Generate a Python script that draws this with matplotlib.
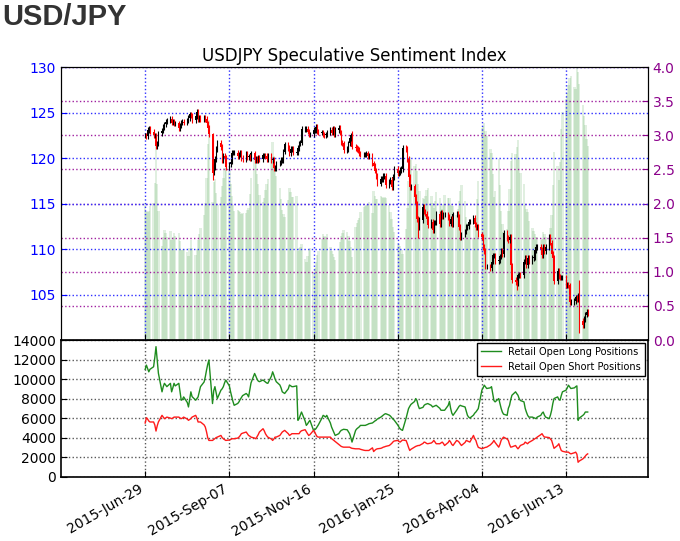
import pandas as pd
import matplotlib
matplotlib.use("Agg")
import matplotlib.pyplot as plt
import matplotlib.dates as mdates

# business days from 2015-06-29 to 2016-07-01 (53 weeks)
dates = pd.bdate_range("2015-06-29", periods=265)

# daily USDJPY closes, one row per week
close = [
    122.5, 122.4, 123.1, 123.2, 122.9,
    122.5, 122.5, 121.3, 121.6, 122.7,
    123.0, 123.4, 123.7, 124.0, 124.1,
    124.3, 123.9, 124.0, 123.8, 123.8,
    123.3, 123.6, 123.9, 124.0, 123.9,
    124.1, 124.4, 124.8, 124.7, 124.2,
    124.6, 125.1, 124.3, 124.4, 124.3,
    124.4, 124.3, 123.8, 123.3, 122.6,
    118.4, 119.0, 119.9, 121.0, 121.7,
    121.2, 119.7, 120.2, 120.0, 119.0,
    119.3, 119.6, 120.6, 120.6, 120.6,
    120.2, 120.4, 120.6, 120.0, 119.9,
    120.5, 120.1, 120.1, 120.0, 120.5,
    119.8, 119.9, 119.8, 120.0, 119.9,
    120.3, 120.3, 120.2, 119.9, 120.2,
    119.8, 119.8, 118.9, 118.9, 119.4,
    119.5, 119.8, 119.8, 120.7, 121.5,
    121.1, 120.5, 121.0, 121.0, 120.6,
    120.6, 121.1, 121.6, 121.7, 123.2,
    123.2, 123.2, 122.9, 122.6, 122.6,
    123.1, 123.1, 123.4, 122.9, 122.8,
    122.8, 122.6, 122.5, 122.6, 122.8,
    123.1, 122.8, 123.2, 122.6, 123.1,
    123.3, 122.8, 121.7, 121.6, 120.9,
    121.0, 121.6, 122.2, 122.5, 121.2,
    121.1, 121.0, 120.9, 120.5, 120.4,
    120.4, 120.4, 120.5, 120.2, 120.2,
    119.4, 119.1, 118.6, 118.0, 117.2,
    117.7, 117.7, 118.0, 118.0, 117.0,
    117.4, 117.6, 116.8, 117.9, 118.8,
    118.3, 118.4, 118.7, 118.8, 121.1,
    121.0, 119.9, 117.9, 116.8, 116.9,
    115.7, 115.0, 113.3, 112.4, 113.2,
    114.6, 114.1, 113.9, 113.3, 112.6,
    113.0, 112.1, 112.9, 112.9, 113.9,
    112.7, 114.0, 113.6, 113.8, 113.8,
    113.5, 112.8, 113.3, 112.7, 113.8,
    113.9, 113.6, 112.4, 111.3, 111.6,
    111.9, 112.4, 112.5, 113.0, 113.0,
    113.4, 112.7, 112.4, 112.5, 111.6,
    111.3, 110.2, 109.8, 108.1, 108.1,
    107.9, 108.6, 109.3, 109.3, 108.7,
    108.8, 109.2, 109.8, 109.4, 111.8,
    111.2, 111.0, 111.3, 108.2, 106.6,
    106.4, 106.2, 107.1, 107.2, 107.1,
    108.6, 109.0, 108.2, 109.0, 108.6,
    109.0, 109.1, 109.9, 110.2, 110.2,
    109.9, 109.3, 110.2, 109.8, 110.2,
    111.3, 110.7, 109.5, 109.0, 106.5,
    107.6, 107.0, 106.9, 106.9, 106.9,
    106.0, 106.1, 106.0, 104.2, 104.2,
    104.3, 104.7, 104.5, 104.9, 102.1,
    101.6, 102.3, 102.8, 103.1, 102.9,
]

# candles with long shadows (high, low)
big_wicks = {
    "2015-08-24": (122.8, 117.6),
    "2015-12-18": (123.0, 121.0),
    "2016-02-11": (113.6, 111.2),
    "2016-05-03": (106.6, 105.5),
    "2016-06-24": (106.6, 100.8),
}

long_pos = [
    10990, 11430, 11100, 10740, 11000,
    11260, 12200, 13320, 11900, 10600,
    8690, 9200, 9560, 9400, 9220,
    9560, 8690, 9100, 9560, 9300,
    9560, 8700, 7830, 7900, 8170,
    7600, 7140, 7900, 8690, 8200,
    7830, 8000, 8170, 8700, 9220,
    9700, 10230, 10900, 11500, 11950,
    7490, 8800, 9220, 8600, 8000,
    8860, 9000, 9220, 9600, 9900,
    9300, 8700, 8200, 7700, 7310,
    7500, 7660, 7900, 8100, 8300,
    8520, 8400, 8170, 8900, 9600,
    10570, 10300, 10000, 9800, 9730,
    9900, 9800, 9700, 9600, 9560,
    10300, 10740, 10400, 10000, 9730,
    9390, 9100, 8690, 8600, 8520,
    9000, 9390, 9300, 9220, 9220,
    9300, 5770, 5940, 6300, 6620,
    5700, 5250, 5400, 5600, 5770,
    4740, 4800, 4910, 5100, 5300,
    6000, 6280, 6200, 6100, 6280,
    5500, 5080, 4800, 4500, 4220,
    4400, 4600, 4740, 4800, 4850,
    4800, 4600, 4400, 4000, 3540,
    4740, 4900, 5000, 5100, 5250,
    5250, 5250, 5300, 5350, 5420,
    5500, 5600, 5700, 5770, 5900,
    6100, 6200, 6300, 6400, 6450,
    6300, 6200, 6050, 5900, 5800,
    5300, 5080, 4900, 4800, 4740,
    6000, 6500, 6970, 7200, 7400,
    7700, 8000, 7800, 7300, 6970,
    7100, 7310, 7400, 7450, 7490,
    7300, 7140, 7200, 7250, 7310,
    7000, 6800, 6800, 6800, 6800,
    7300, 7700, 7000, 6500, 6280,
    6800, 7000, 7200, 7310, 7250,
    7140, 6700, 6280, 6100, 6000,
    6300, 6500, 6620, 6800, 6970,
    8860, 9100, 9370, 9200, 9030,
    9100, 9220, 8500, 7800, 7660,
    8000, 7500, 7000, 6620, 6400,
    6280, 7000, 7310, 7900, 8340,
    8690, 8500, 8340, 8000, 7800,
    7660, 7000, 6620, 6300, 6100,
    6100, 6050, 6000, 5940, 6100,
    6280, 6500, 6620, 6300, 6100,
    5940, 6300, 6800, 7500, 8000,
    8170, 7900, 7830, 8300, 8690,
    8860, 9100, 9370, 9200, 9030,
    9100, 9220, 9300, 5770, 6000,
    6280, 6400, 6620, 6620, 6620,
]

short_pos = [
    5490, 6040, 5900, 5700, 5600,
    5600, 5300, 4670, 5200, 5600,
    6280, 6100, 5940, 6000, 6100,
    6000, 5940, 6000, 6100, 6100,
    6100, 6000, 5940, 6000, 6100,
    5900, 5770, 5850, 5940, 6100,
    6280, 6000, 5600, 5600, 5600,
    5300, 5080, 4600, 4000, 3710,
    3710, 3800, 3900, 4000, 4050,
    4220, 4000, 3880, 3800, 3710,
    3750, 3800, 3880, 3880, 3880,
    3950, 4050, 4200, 4400, 4450,
    4570, 4400, 4220, 4150, 4050,
    3950, 3880, 4100, 4300, 4570,
    4910, 4700, 4400, 4200, 4050,
    3850, 3710, 3850, 4050, 4050,
    4220, 4400, 4570, 4650, 4740,
    4400, 4220, 4300, 4400, 4400,
    4400, 4400, 4400, 4600, 4700,
    4810, 4600, 4400, 4220, 4300,
    4740, 4570, 4300, 4100, 4050,
    4050, 4050, 4050, 4050, 4050,
    4050, 3900, 3800, 3710, 3600,
    3300, 3190, 3100, 3050, 3020,
    3020, 3020, 3020, 2950, 2900,
    2850, 2850, 2850, 2850, 2800,
    2700, 2680, 2680, 2680, 2680,
    2950, 2570, 2700, 2800, 2850,
    2900, 2950, 3020, 3050, 3100,
    3190, 3300, 3400, 3550, 3650,
    3710, 3600, 3540, 3650, 3750,
    3700, 3370, 3000, 2680, 2800,
    3020, 3100, 3150, 3190, 3190,
    3400, 3540, 3500, 3400, 3370,
    3450, 3550, 3710, 3550, 3370,
    3370, 3450, 3540, 3400, 3190,
    3500, 3710, 3540, 3300, 3190,
    3710, 3650, 3540, 3350, 3190,
    3500, 3710, 3650, 3600, 3540,
    4220, 3900, 3710, 3300, 3000,
    2850, 2900, 2950, 3000, 3020,
    3250, 3370, 3500, 3710, 3500,
    3020, 3300, 3710, 3900, 4050,
    3850, 3710, 3300, 3020, 3050,
    3190, 3000, 2850, 3000, 3190,
    3350, 3540, 3450, 3370, 3500,
    3710, 3800, 3880, 3950, 4050,
    4300, 4400, 4200, 4050, 4050,
    4000, 3850, 3710, 3300, 2900,
    3200, 3370, 3000, 2680, 2600,
    2510, 2510, 2510, 2400, 2330,
    2450, 2510, 2300, 1470, 1600,
    1820, 1950, 2100, 2250, 2330,
]

tick_dates = pd.date_range("2015-06-29", periods=6, freq="70D")

df = pd.DataFrame({"close": close, "long": long_pos, "short": short_pos}, index=dates)
df["open"] = df["close"].shift(1).fillna(df["close"].iloc[0])
df["high"] = df[["open", "close"]].max(axis=1) + 0.3
df["low"] = df[["open", "close"]].min(axis=1) - 0.3
for d, (hi, lo) in big_wicks.items():
    df.loc[d, "high"] = hi
    df.loc[d, "low"] = lo
df["ratio"] = df["long"] / df["short"]

x = mdates.date2num(df.index.to_pydatetime())

fig = plt.figure(figsize=(6.8, 5.41), dpi=100)
ax = fig.add_axes([0.0897, 0.3715, 0.863, 0.5046])
axr = ax.twinx()
ax2 = fig.add_axes([0.0897, 0.119, 0.863, 0.2525], sharex=ax)

# sentiment ratio bars (right axis)
axr.bar(x, df["ratio"], width=2.0, color="green", alpha=0.12, linewidth=0)
axr.set_ylim(0, 4)
axr.set_yticks([0.0, 0.5, 1.0, 1.5, 2.0, 2.5, 3.0, 3.5, 4.0])
axr.set_yticklabels([f"{v:.1f}" for v in axr.get_yticks()])
axr.tick_params(axis="y", colors="#8b008b", labelsize=10, direction="in", length=4)
axr.grid(True, axis="y", color="#a020a0", linestyle=":", linewidth=1)
for s in axr.spines.values():
    s.set_color("black")

# candles on top
ax.set_zorder(axr.get_zorder() + 1)
ax.patch.set_visible(False)
up = df["close"] >= df["open"]
cols = ["black" if u else "red" for u in up]
ax.vlines(x, df["low"], df["high"], colors=cols, linewidth=0.8)
ax.bar(x, (df["close"] - df["open"]).abs().clip(lower=0.08),
       bottom=df[["open", "close"]].min(axis=1), width=0.9, color=cols, linewidth=0)
ax.set_ylim(100, 130)
ax.set_yticks([105, 110, 115, 120, 125, 130])
ax.tick_params(axis="y", colors="blue", labelsize=10, direction="in", length=4)
ax.tick_params(axis="x", direction="in", length=4, labelbottom=False)
ax.grid(True, color="#3030ff", linestyle=":", linewidth=1)
ax.set_title("USDJPY Speculative Sentiment Index", fontsize=12, pad=4)

# positions
ax2.plot(x, df["long"], color="#1e8c1e", linewidth=1, label="Retail Open Long Positions")
ax2.plot(x, df["short"], color="#ff1a1a", linewidth=1, label="Retail Open Short Positions")
ax2.set_ylim(0, 14000)
ax2.set_yticks(range(0, 14001, 2000))
ax2.tick_params(axis="y", labelsize=10, direction="in", length=4)
ax2.tick_params(axis="x", labelsize=10, direction="in", length=4)
ax2.grid(True, color="0.35", linestyle=":", linewidth=1)
ax2.legend(loc="upper right", fontsize=7, fancybox=False, edgecolor="black",
           framealpha=1, borderaxespad=0.3)
for s in ax2.spines.values():
    s.set_linewidth(1.2)

ax2.set_xlim(pd.Timestamp("2015-04-20"), pd.Timestamp("2016-08-20"))
ax2.set_xticks(tick_dates)
ax2.xaxis.set_major_formatter(mdates.DateFormatter("%Y-%b-%d"))
plt.setp(ax2.get_xticklabels(), rotation=30, ha="right")

fig.text(0.004, 0.995, "USD/JPY", fontsize=21, fontweight="bold",
         family="Liberation Sans", color="#333333", va="top", ha="left")

fig.savefig("out.png", dpi=100)
